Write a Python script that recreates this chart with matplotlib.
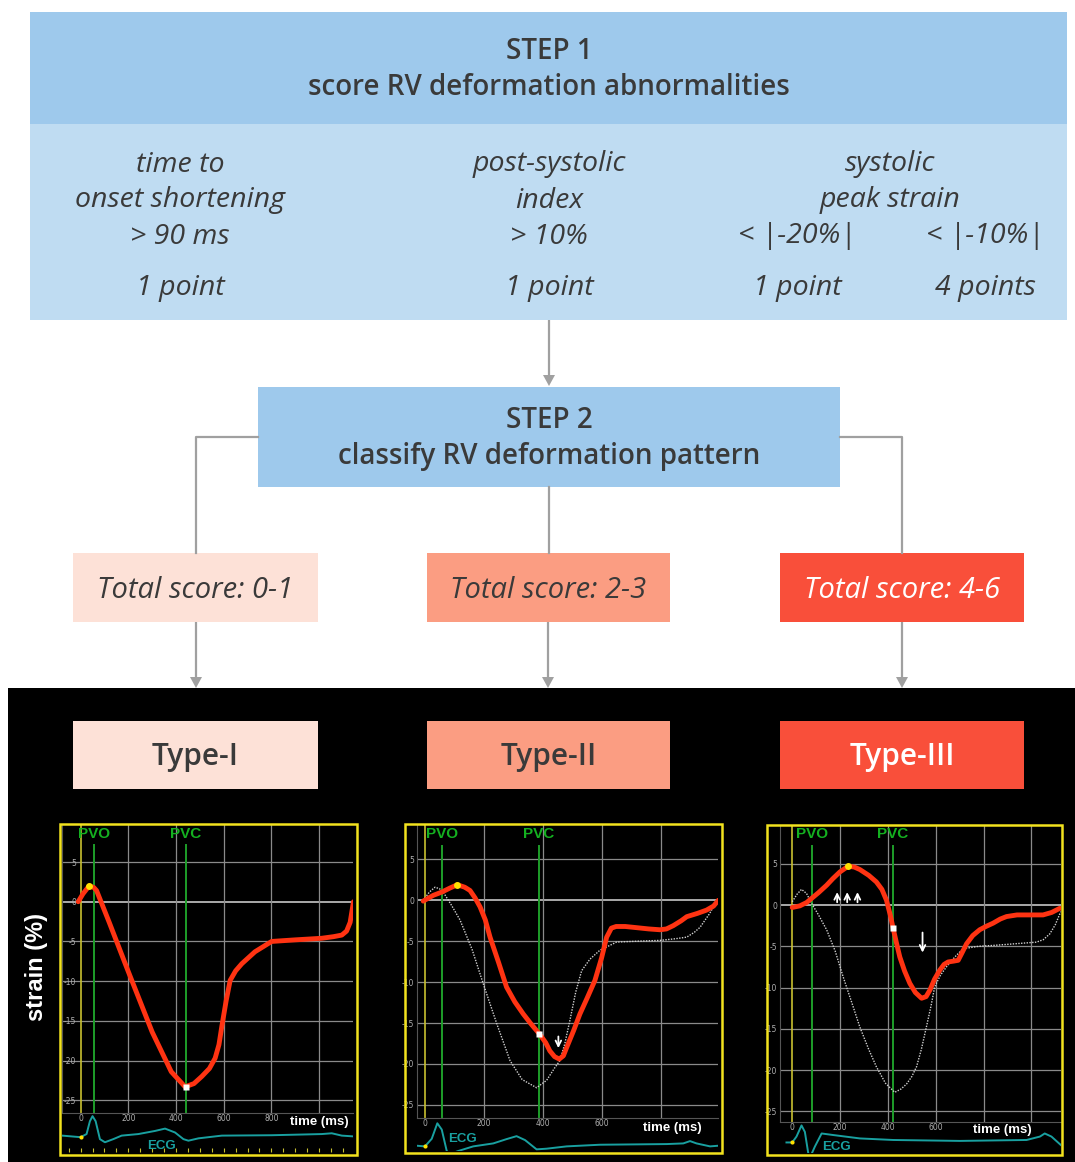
import numpy as np
import matplotlib
matplotlib.use('Agg')
import matplotlib.pyplot as plt
from matplotlib.patches import Rectangle, Polygon

# ---------------- data ----------------
step1_lines = ["STEP 1", "score RV deformation abnormalities"]
step2_lines = ["STEP 2", "classify RV deformation pattern"]
crit_names = [["time to", "onset shortening"], ["post-systolic", "index"], ["systolic", "peak strain"]]
crit_thresholds = ["> 90 ms", "> 10%", "< |-20%|", "< |-10%|"]
crit_points = ["1 point", "1 point", "1 point", "4 points"]
score_labels = ["Total score: 0-1", "Total score: 2-3", "Total score: 4-6"]
type_labels = ["Type-I", "Type-II", "Type-III"]

strain_yticks = [5, 0, -5, -10, -15, -20, -25]
time_ticks = [[0, 200, 400, 600, 800], [0, 200, 400, 600], [0, 200, 400, 600]]
time_grid = [[200, 400, 600, 800, 1000], [200, 400, 600, 800], [200, 400, 600, 800, 1000]]

pvo_ms = [56, 57, 81]
pvc_ms = [442, 386, 422]

# Type-I strain curve (ms, %)
t1_ms = [-10, 10, 36, 55, 67, 120, 200, 300, 380, 438, 475, 508, 540, 564, 580, 592, 610, 627, 650, 676, 731, 801, 900, 1011, 1060, 1095, 1115, 1130, 1144]
t1_st = [0.0, 1.0, 2.0, 1.8, 1.4, -2.6, -8.8, -16.4, -21.4, -23.3, -22.9, -22.0, -21.0, -19.7, -18.0, -15.7, -12.5, -9.9, -8.7, -7.8, -6.3, -5.0, -4.8, -4.6, -4.4, -4.2, -3.7, -2.6, 0.0]
t1_peak = (36, 2.0)
t1_pvc = (442, -23.3)

# Type-II strain curve + reference (dotted)
t2_ms = [-6, 28, 57, 85, 110, 135, 153, 170, 187, 205, 221, 250, 277, 305, 334, 360, 388, 410, 424, 440, 456, 470, 481, 505, 526, 550, 577, 600, 617, 633, 649, 680, 707, 760, 798, 820, 843, 870, 889, 925, 956, 980, 996]
t2_st = [-0.1, 0.6, 1.0, 1.5, 1.9, 1.6, 1.2, 0.3, -0.8, -2.4, -4.5, -7.6, -10.6, -12.4, -13.9, -15.1, -16.3, -17.4, -18.4, -19.1, -19.4, -19.0, -18.0, -15.9, -13.9, -12.0, -9.8, -7.0, -4.5, -3.4, -3.2, -3.2, -3.3, -3.5, -3.6, -3.5, -3.1, -2.5, -2.0, -1.6, -1.2, -0.7, 0.0]
t2_peak = (110, 1.9)
t2_pvc = (388, -16.3)
t2_ref_ms = [-6, 15, 34, 50, 62, 90, 119, 160, 198, 245, 289, 330, 379, 413, 440, 458, 475, 492, 512, 532, 560, 594, 651, 720, 798, 850, 889, 915, 934, 965, 996]
t2_ref_st = [0.0, 1.0, 1.6, 1.4, 1.0, -0.6, -2.4, -6.0, -10.2, -15.2, -19.6, -21.9, -22.9, -22.0, -20.5, -19.6, -17.5, -14.7, -11.2, -8.6, -7.2, -6.1, -5.1, -5.0, -4.9, -4.7, -4.5, -3.9, -3.3, -1.7, 0.2]
t2_arrow = (453, -16.3, -18.4)

# Type-III strain curve + reference (dotted)
t3_ms = [0, 32, 60, 81, 110, 144, 170, 199, 234, 260, 283, 320, 352, 375, 394, 410, 422, 436, 450, 470, 492, 515, 541, 560, 576, 595, 617, 635, 652, 675, 694, 710, 729, 755, 784, 810, 840, 870, 896, 940, 979, 1010, 1049, 1085, 1119]
t3_st = [-0.3, -0.1, 0.3, 0.8, 1.5, 2.4, 3.2, 4.0, 4.7, 4.6, 4.3, 3.6, 2.8, 1.9, 0.6, -1.2, -2.8, -4.6, -6.3, -8.0, -9.5, -10.6, -11.3, -11.1, -10.3, -9.0, -7.9, -7.2, -6.9, -6.8, -6.7, -5.8, -4.7, -3.7, -3.0, -2.6, -2.2, -1.7, -1.4, -1.2, -1.2, -1.2, -1.2, -0.9, -0.4]
t3_peak = (234, 4.7)
t3_pvc = (422, -2.8)
t3_ref_ms = [0, 20, 39, 60, 81, 110, 144, 180, 213, 250, 283, 320, 352, 390, 429, 455, 478, 500, 520, 540, 561, 580, 596, 620, 645, 680, 714, 780, 840, 930, 1021, 1050, 1077, 1100, 1123]
t3_ref_st = [0.4, 1.3, 1.9, 1.4, 0.2, -1.2, -3.0, -5.6, -8.7, -11.9, -14.8, -17.5, -19.6, -21.6, -22.7, -22.3, -21.7, -20.8, -19.6, -17.5, -14.8, -12.3, -9.9, -8.5, -7.5, -6.3, -5.3, -5.0, -4.9, -4.7, -4.5, -4.2, -3.5, -2.4, -0.8]
t3_up_arrows = [188, 230, 273]
t3_up_range = (0.0, 1.9)
t3_down_arrow = (545, -3.0, -6.1)

# ECG traces (ms, relative amplitude within strip)
e1_ms = [-77, 0, 25, 39, 50, 63, 81, 102, 137, 172, 242, 312, 354, 396, 431, 452, 494, 592, 801, 1011, 1053, 1095, 1144]
e1_amp = [0.42, 0.38, 0.46, 0.79, 0.92, 0.79, 0.33, 0.25, 0.33, 0.42, 0.46, 0.54, 0.60, 0.50, 0.33, 0.29, 0.35, 0.42, 0.43, 0.46, 0.48, 0.42, 0.40]
e2_ms = [-28, 0, 23, 42, 57, 74, 85, 113, 164, 232, 277, 311, 340, 379, 413, 481, 594, 821, 877, 900, 922, 968, 996]
e2_amp = [0.16, 0.14, 0.37, 0.84, 0.65, 0.0, -0.09, 0.0, 0.14, 0.23, 0.36, 0.45, 0.33, 0.05, 0.07, 0.14, 0.19, 0.21, 0.23, 0.30, 0.23, 0.14, 0.16]
e3_ms = [-24, 0, 18, 39, 53, 67, 77, 95, 123, 171, 283, 422, 701, 980, 1036, 1056, 1084, 1123]
e3_amp = [0.34, 0.34, 0.53, 0.89, 0.68, 0.0, -0.1, 0.21, 0.63, 0.58, 0.47, 0.42, 0.39, 0.42, 0.53, 0.63, 0.53, 0.26]

# ---------------- layout ----------------
W, H = 1075, 1162
fig = plt.figure(figsize=(W / 100, H / 100), dpi=100)
bg = fig.add_axes([0, 0, 1, 1])
bg.set_xlim(0, W)
bg.set_ylim(H, 0)
bg.axis('off')

FONT = 'Open Sans'
TXT = '#3a3a3a'
BLUE_D = '#9ec9ec'
BLUE_L = '#bfdcf2'
C1, C2, C3 = '#fde1d7', '#fb9d82', '#f94f3a'
GRAY = '#a0a0a0'


def rect(x0, y0, x1, y1, color, **kw):
    bg.add_patch(Rectangle((x0, y0), x1 - x0, y1 - y0, facecolor=color, edgecolor='none', **kw))


def arrow_down(x, y0, y1):
    bg.plot([x, x], [y0, y1 - 9], color=GRAY, lw=1.6, solid_capstyle='butt')
    bg.add_patch(Polygon([[x - 6, y1 - 11], [x + 6, y1 - 11], [x, y1]], closed=True,
                         facecolor=GRAY, edgecolor='none'))


def txt(x, y, s, size=20.5, color=TXT, **kw):
    bg.text(x, y + 3.5, s, ha='center', va='center', fontsize=size, color=color, family=FONT, **kw)


# Step 1
rect(30, 12, 1067, 124, BLUE_D)
rect(30, 124, 1067, 320, BLUE_L)
for y, s in zip([48, 84], step1_lines):
    txt(549, y, s, size=20, fontweight='semibold')
for xc, name in zip([180, 549, 890], crit_names):
    for y, s in zip([161, 197], name):
        txt(xc, y, s, style='italic')
for xc, th in zip([180, 549, 797, 985], crit_thresholds):
    txt(xc, 233, th, style='italic')
for xc, pt in zip([180, 549, 797, 985], crit_points):
    txt(xc, 285, pt, style='italic')

arrow_down(549, 320, 386)

# Step 2
rect(258, 387, 840, 487, BLUE_D)
for y, s in zip([417, 453], step2_lines):
    txt(549, y, s, size=20, fontweight='semibold')
bg.plot([258, 196, 196], [437, 437, 553], color=GRAY, lw=1.6)
bg.plot([840, 902, 902], [437, 437, 553], color=GRAY, lw=1.6)
bg.plot([549, 549], [487, 553], color=GRAY, lw=1.6)

box_x = [(73, 318), (427, 670), (780, 1024)]
cols = [C1, C2, C3]
tcols = [TXT, TXT, 'white']
for (x0, x1), c, tc, lab in zip(box_x, cols, tcols, score_labels):
    rect(x0, 553, x1, 622, c)
    txt((x0 + x1) / 2, 587, lab, size=21, color=tc, style='italic')
    arrow_down(round((x0 + x1) / 2), 622, 688)

# black lower panel
rect(8, 688, 1075, 1162, 'black')
for (x0, x1), c, tc, lab in zip(box_x, cols, tcols, type_labels):
    rect(x0, 721, x1, 789, c)
    txt((x0 + x1) / 2, 754, lab, size=21.5, color=tc, fontweight='semibold')

bg.text(36, 967, 'strain (%)', rotation=90, ha='center', va='center', fontsize=17,
        color='white', family='Liberation Sans', fontweight='bold')


def fr(x0, y0, x1, y1):
    return [x0 / W, 1 - y1 / H, (x1 - x0) / W, (y1 - y0) / H]


panels = [
    dict(frame=(60, 824, 357, 1155), strain=(62, 825, 353, 1113), ecg=(62, 1113, 353, 1152),
         xlim=(-78, 1142), ylim=(-26.6, 9.66), ypad=-10,
         ms=t1_ms, st=t1_st, peak=t1_peak, pvc=t1_pvc, ref=None,
         ems=e1_ms, eamp=e1_amp, ecg_lab=(280, 0.15), time_lab=(1125, 0.78), eticks=True),
    dict(frame=(405, 824, 722, 1153), strain=(417, 825, 718, 1118), ecg=(417, 1118, 718, 1151),
         xlim=(-27, 995), ylim=(-26.6, 9.2), ypad=2,
         ms=t2_ms, st=t2_st, peak=t2_peak, pvc=t2_pvc, ref=(t2_ref_ms, t2_ref_st),
         ems=e2_ms, eamp=e2_amp, ecg_lab=(80, 0.35), time_lab=(940, 0.70), eticks=False),
    dict(frame=(767, 825, 1062, 1155), strain=(780, 825, 1061, 1122), ecg=(780, 1122, 1061, 1153),
         xlim=(-51, 1124), ylim=(-26.3, 9.7), ypad=2,
         ms=t3_ms, st=t3_st, peak=t3_peak, pvc=t3_pvc, ref=(t3_ref_ms, t3_ref_st),
         ems=e3_ms, eamp=e3_amp, ecg_lab=(125, 0.2), time_lab=(1000, 0.75), eticks=False),
]

for i, p in enumerate(panels):
    ax = fig.add_axes(fr(*p['strain']))
    ax.set_facecolor('black')
    ax.set_xlim(*p['xlim'])
    ax.set_ylim(*p['ylim'])
    for s in ax.spines.values():
        s.set_visible(False)
    ax.spines['left'].set_visible(True)
    ax.spines['left'].set_color('#555555')
    ax.set_xticks([])
    ax.set_yticks(strain_yticks)
    ax.set_yticklabels([str(v) for v in strain_yticks])
    ax.tick_params(axis='y', length=0, pad=p['ypad'], labelsize=5.5, labelcolor='#b0b0b0')
    for v in strain_yticks:
        ax.axhline(v, color='#d8d8d8' if v == 0 else '#8a8a8a', lw=1.1 if v == 0 else 0.9, zorder=1)
    for v in time_grid[i]:
        ax.axvline(v, color='#8a8a8a', lw=0.9, zorder=1)
    ax.axvline(0, color='#c8c030', lw=1.2, zorder=2)
    ax.axvline(pvo_ms[i], color='#1e9e2a', lw=1.4, ymax=0.93, zorder=2)
    ax.axvline(pvc_ms[i], color='#1e9e2a', lw=1.4, ymax=0.93, zorder=2)
    for xm, lab in [(pvo_ms[i], 'PVO'), (pvc_ms[i], 'PVC')]:
        ax.text(xm, 0.992, lab, transform=ax.get_xaxis_transform(), ha='center', va='top',
                fontsize=11, color='#14b020', family='Liberation Sans', fontweight='bold', zorder=5)
    if p['ref'] is not None:
        ax.plot(p['ref'][0], p['ref'][1], color='#d0d0d0', lw=1.0, ls=(0, (1, 1)), zorder=3)
    ax.plot(p['ms'], p['st'], color='#ff3312', lw=3.5, solid_joinstyle='round',
            solid_capstyle='round', zorder=4)
    ax.plot([p['peak'][0]], [p['peak'][1]], marker='o', ms=5, color='#ffe000', mec='none', zorder=6)
    ax.plot([p['pvc'][0]], [p['pvc'][1]], marker='s', ms=4.5, color='white', mec='none', zorder=6)
    if i == 1:
        x, y0, y1 = t2_arrow
        ax.annotate('', xy=(x, y1), xytext=(x, y0),
                    arrowprops=dict(arrowstyle='->', color='white', lw=1.3), zorder=7)
    if i == 2:
        for x in t3_up_arrows:
            ax.annotate('', xy=(x, t3_up_range[1]), xytext=(x, t3_up_range[0]),
                        arrowprops=dict(arrowstyle='->', color='white', lw=1.3), zorder=7)
        x, y0, y1 = t3_down_arrow
        ax.annotate('', xy=(x, y1), xytext=(x, y0),
                    arrowprops=dict(arrowstyle='->', color='white', lw=1.3), zorder=7)

    ea = fig.add_axes(fr(*p['ecg']))
    ea.set_facecolor('black')
    ea.set_xlim(*p['xlim'])
    ea.set_ylim(0, 1)
    for s in ea.spines.values():
        s.set_visible(False)
    ea.spines['top'].set_visible(True)
    ea.spines['top'].set_color('#555555')
    ea.set_yticks([])
    if p['eticks']:
        ea.set_xticks(np.arange(-50, p['xlim'][1], 50))
        ea.tick_params(axis='x', direction='in', length=3, color='#c8c030', labelbottom=False)
    else:
        ea.set_xticks([])
    ea.plot(p['ems'], p['eamp'], color='#19a0a0', lw=1.4, clip_on=True)
    ea.plot([p['ems'][1]], [p['eamp'][1]], marker='o', ms=3, color='#ffe000', mec='none')
    for t in time_ticks[i]:
        ea.text(t, 0.97, str(t), ha='center', va='top', fontsize=5.5, color='#b0b0b0')
    ea.text(p['time_lab'][0], p['time_lab'][1], 'time (ms)', ha='right', va='center',
            fontsize=9.5, color='white', family='Liberation Sans', fontweight='bold')
    ea.text(p['ecg_lab'][0], p['ecg_lab'][1], 'ECG', ha='left', va='center',
            fontsize=9.5, color='#19a0a0', family='Liberation Sans', fontweight='bold')

    fx0, fy0, fx1, fy1 = p['frame']
    fig.add_artist(Rectangle((fx0, fy0), fx1 - fx0, fy1 - fy0, transform=bg.transData,
                             facecolor='none', edgecolor='#f2e21e', lw=1.8, zorder=10))

fig.savefig('out.png', dpi=100, facecolor='white')
